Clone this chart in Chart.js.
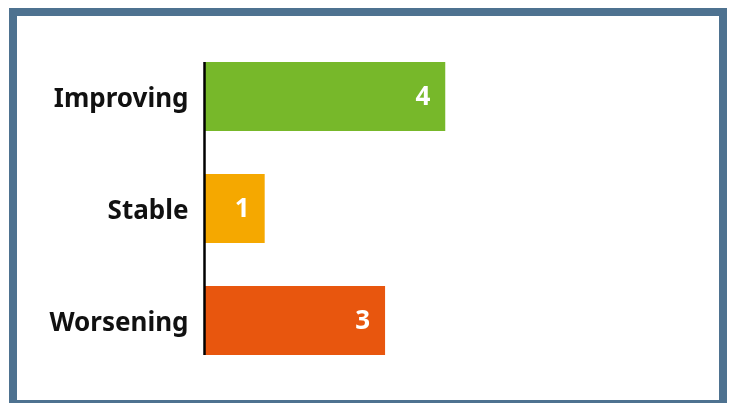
<!DOCTYPE html>
<html>
<head>
<meta charset="utf-8">
<script src="https://cdn.jsdelivr.net/npm/chart.js@4"></script>
<style>
  html, body { margin: 0; padding: 0; background: #ffffff; }
  #wrap { position: relative; width: 731px; height: 403px; overflow: hidden; }
  #frame { position: absolute; left: 9px; top: 8px; width: 702px; height: 384px; border: 8px solid #4e7290; background: #ffffff; }
  #c { position: absolute; left: 0; top: 0; }
</style>
</head>
<body>
<div id="wrap">
  <div id="frame"></div>
  <canvas id="c" width="731" height="403"></canvas>
</div>
<script>
const categories = ["Improving", "Stable", "Worsening"];
const values = [4, 1, 3];
const barColors = ["#77b82a", "#f5a800", "#e8560e"];

const FONT = "'Noto Sans', 'Open Sans', sans-serif";

const valueLabels = {
  id: 'valueLabels',
  afterDatasetsDraw(chart) {
    const ctx = chart.ctx;
    const meta = chart.getDatasetMeta(0);
    ctx.save();
    ctx.font = "bold 26px " + FONT;
    ctx.fillStyle = "#ffffff";
    ctx.textAlign = "right";
    ctx.textBaseline = "middle";
    meta.data.forEach((bar, i) => {
      ctx.fillText(String(values[i]), bar.x - 15, bar.y + 1);
    });
    ctx.restore();
  }
};

const axisLine = {
  id: 'axisLine',
  afterDatasetsDraw(chart) {
    const ctx = chart.ctx;
    const meta = chart.getDatasetMeta(0);
    const first = meta.data[0], last = meta.data[meta.data.length - 1];
    const top = first.y - first.height / 2;
    const bottom = last.y + last.height / 2;
    const x = chart.scales.x.getPixelForValue(0);
    ctx.save();
    ctx.strokeStyle = "#000000";
    ctx.lineWidth = 2.5;
    ctx.beginPath();
    ctx.moveTo(x, top);
    ctx.lineTo(x, bottom);
    ctx.stroke();
    ctx.restore();
  }
};

new Chart(document.getElementById('c'), {
  type: 'bar',
  data: {
    labels: categories,
    datasets: [{
      data: values,
      backgroundColor: barColors,
      borderWidth: 0,
      barPercentage: 0.615,
      categoryPercentage: 1.0
    }]
  },
  options: {
    indexAxis: 'y',
    responsive: false,
    animation: false,
    devicePixelRatio: 1,
    layout: { padding: { top: 40.5, bottom: 26.5, left: 0, right: 45 } },
    plugins: { legend: { display: false }, tooltip: { enabled: false } },
    scales: {
      x: { display: false, min: 0, max: 8 },
      y: {
        grid: { display: false, drawTicks: false },
        border: { display: false },
        ticks: { color: "#111111", padding: 16, labelOffset: 3, font: { family: FONT, size: 26, weight: 'bold' } },
        afterFit(scale) { scale.width = 204.5; scale.paddingTop = 0; scale.paddingBottom = 0; }
      }
    }
  },
  plugins: [valueLabels, axisLine]
});
</script>
</body>
</html>
